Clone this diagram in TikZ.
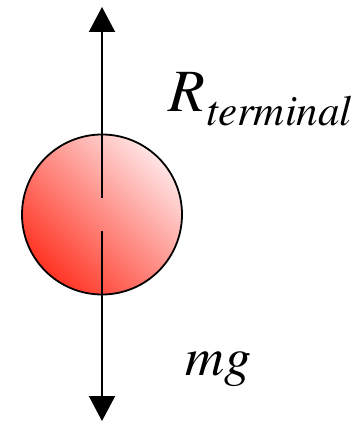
\documentclass[tikz,border=0pt]{standalone}
\usepackage[T1]{fontenc}
\usepackage{mathptmx}
\usetikzlibrary{arrows.meta}
\definecolor{balllight}{RGB}{255,228,228}
\definecolor{balldark}{RGB}{255,52,36}
\begin{document}
\begin{tikzpicture}[x=1pt,y=-1pt,
  force/.style={line width=2pt,-{Triangle[length=25pt,width=26pt]}},
  ball/.style={circle,draw,line width=1.8pt,minimum size=160pt,inner sep=0pt,
    top color=balllight,bottom color=balldark,shading angle=-45},
  lbl/.style={anchor=base west,inner sep=0pt}]
\useasboundingbox (0,0) rectangle (360,422);
\node[ball] (b) at (102,214.5) {};
\coordinate (us) at (102,198);
\coordinate (ue) at (102,7);
\coordinate (ds) at (102,231);
\coordinate (de) at (102,421);
\draw[force] (us) -- (ue);
\draw[force] (ds) -- (de);
\node[lbl,font=\fontsize{60}{60}\selectfont\itshape] (R) at (168,112) {R};
\node[lbl,font=\fontsize{43}{43}\selectfont\itshape] (sub) at (206,126) {terminal};
\node[lbl,font=\fontsize{54}{54}\selectfont\itshape] (mg) at (185,375) {mg};
\end{tikzpicture}
\end{document}
